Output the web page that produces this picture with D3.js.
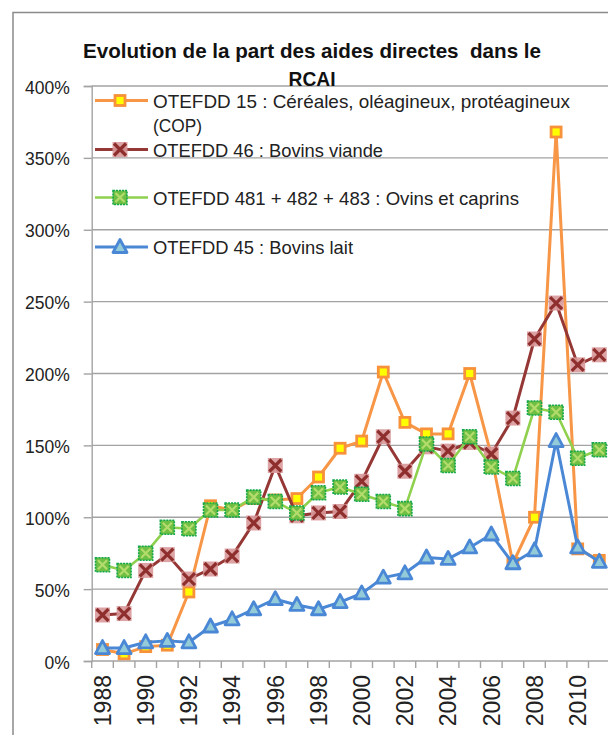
<!DOCTYPE html>
<html>
<head>
<meta charset="utf-8">
<script src="https://cdn.jsdelivr.net/npm/d3@7"></script>
<style>
  body { margin: 0; background: #fff; }
  svg { display: block; font-family: "Liberation Sans", Arial, sans-serif; }
</style>
</head>
<body>
<svg id="chart"></svg>
<script>
// categories
const years = [1988, 1989, 1990, 1991, 1992, 1993, 1994, 1995, 1996, 1997, 1998, 1999,
               2000, 2001, 2002, 2003, 2004, 2005, 2006, 2007, 2008, 2009, 2010, 2011];

// series values (% of RCAI)
const cop    = [8, 5, 10, 11, 48, 108, 105, 113, 112, 113, 128, 148, 153, 201, 166, 158, 158, 200, 143, 68, 100, 368, 78, 70];
const viande = [32, 33, 63, 74, 57, 64, 73, 96, 136, 101, 103, 104, 125, 156, 132, 149, 146, 152, 144, 169, 224, 249, 206, 213];
const ovins  = [67, 63, 75, 93, 92, 105, 105, 114, 111, 103, 117, 121, 116, 111, 106, 151, 136, 156, 135, 127, 176, 173, 141, 147];
const lait   = [9, 9, 13, 14, 13, 24, 29, 36, 43, 39, 36, 41, 47, 58, 61, 72, 71, 79, 88, 68, 77, 153, 79, 69];

// tick labels
const yTicks = [0, 50, 100, 150, 200, 250, 300, 350, 400];
const xLabels = [1988, 1990, 1992, 1994, 1996, 1998, 2000, 2002, 2004, 2006, 2008, 2010];

const titleLines = ["Evolution de la part des aides directes  dans le", "RCAI"];
const seriesNames = [
    ["OTEFDD 15 : Céréales, oléagineux, protéagineux", "(COP)"],
    ["OTEFDD 46 : Bovins viande"],
    ["OTEFDD 481 + 482 + 483 : Ovins et caprins"],
    ["OTEFDD 45 : Bovins lait"]
];

const W = 608, H = 735;
const margin = {left: 91.7, top: 86, bottom: 661};
const band = 21.6;

const svg = d3.select('#chart').attr('width', W).attr('height', H);

// outer chart frame
svg.append('rect')
    .attr('x', 13).attr('y', 12.5)
    .attr('width', 800).attr('height', 900)
    .attr('fill', 'none')
    .attr('stroke', '#8a8a8a')
    .attr('stroke-width', 1.5);

const x = d3.scaleBand()
    .domain(years)
    .range([margin.left, margin.left + band * years.length]);

const y = d3.scaleLinear()
    .domain([0, 400])
    .range([margin.bottom, margin.top]);

// gridlines
svg.append('g')
    .selectAll('line')
    .data(yTicks.slice(1))
    .join('line')
    .attr('x1', margin.left).attr('x2', W + 5)
    .attr('y1', d => y(d)).attr('y2', d => y(d))
    .attr('stroke', '#a3a3a3')
    .attr('stroke-width', 1.4);

// y axis
let yAxis = g => g.attr('transform', `translate(${margin.left},0)`)
    .call(d3.axisLeft(y).tickValues(yTicks).tickSize(8).tickPadding(14).tickFormat(d => d + '%'))
    .call(g => g.select('.domain').attr('stroke', '#a3a3a3').attr('stroke-width', 1.4))
    .call(g => g.selectAll('.tick line').attr('stroke', '#a3a3a3').attr('stroke-width', 1.4))
    .call(g => g.selectAll('.tick text')
        .attr('fill', '#222')
        .attr('dy', '0.4em')
        .style('font-size', '17.5px')
        .style('font-family', '"Liberation Sans", Arial, sans-serif'));
svg.append('g').call(yAxis);

// x axis: line + ticks between categories
const xg = svg.append('g');
xg.append('line')
    .attr('x1', margin.left).attr('x2', W + 5)
    .attr('y1', y(0)).attr('y2', y(0))
    .attr('stroke', '#a3a3a3').attr('stroke-width', 1.4);
xg.selectAll('.xtick')
    .data(years)
    .join('line')
    .attr('class', 'xtick')
    .attr('x1', d => x(d)).attr('x2', d => x(d))
    .attr('y1', y(0)).attr('y2', y(0) + 7)
    .attr('stroke', '#a3a3a3').attr('stroke-width', 1.4);

let xAxis = g => g.attr('transform', `translate(0,${y(0)})`)
    .call(d3.axisBottom(x).tickValues(xLabels).tickSize(0))
    .call(g => g.select('.domain').remove())
    .call(g => g.selectAll('.tick text')
        .attr('transform', 'rotate(-90)')
        .attr('x', -14).attr('y', 0).attr('dy', '0.36em')
        .style('text-anchor', 'end')
        .attr('fill', '#222')
        .style('font-size', '23px')
        .style('font-family', '"Liberation Sans", Arial, sans-serif'));
svg.append('g').call(xAxis);

// markers
function drawMarker(g, type) {
    if (type === 'square') {
        g.append('rect').attr('x', -5).attr('y', -5).attr('width', 10).attr('height', 10)
            .attr('fill', '#ffff00').attr('stroke', '#f7923a').attr('stroke-width', 2.8);
    } else if (type === 'cross') {
        g.append('rect').attr('x', -7.5).attr('y', -7.5).attr('width', 15).attr('height', 15)
            .attr('fill', '#d9999a').attr('fill-opacity', 0.9);
        g.append('path').attr('d', 'M-6,-6L6,6M-6,6L6,-6')
            .attr('stroke', '#8e2f2e').attr('stroke-width', 3.2).attr('fill', 'none');
    } else if (type === 'green') {
        g.append('rect').attr('x', -7).attr('y', -7).attr('width', 14).attr('height', 14)
            .attr('fill', '#6fbf45').attr('stroke', '#14a84a').attr('stroke-width', 1.6)
            .attr('stroke-dasharray', '2,1');
        g.append('path').attr('d', 'M-4.5,-4.5L4.5,4.5M-4.5,4.5L4.5,-4.5')
            .attr('stroke', '#b4dc6c').attr('stroke-width', 2.2).attr('fill', 'none');
    } else if (type === 'triangle') {
        g.append('path').attr('d', 'M0,-7.5L7,5.5L-7,5.5Z')
            .attr('fill', '#93cbd8').attr('stroke', '#4a88d6').attr('stroke-width', 2.8)
            .attr('stroke-linejoin', 'round');
    }
}

const series = [
    {values: cop,    color: '#f79646', width: 3,   marker: 'square'},
    {values: viande, color: '#953735', width: 3,   marker: 'cross'},
    {values: ovins,  color: '#8fd14f', width: 2.6, marker: 'green'},
    {values: lait,   color: '#4a88d6', width: 3,   marker: 'triangle'}
];

const cx = i => x(years[i]) + x.bandwidth() / 2;
const line = d3.line().x((d, i) => cx(i)).y(d => y(d));

const plot = svg.append('g');
series.forEach(s => {
    const g = plot.append('g');
    g.append('path')
        .datum(s.values)
        .attr('d', line)
        .attr('fill', 'none')
        .attr('stroke', s.color)
        .attr('stroke-width', s.width)
        .attr('stroke-linejoin', 'round');
    g.selectAll('.m')
        .data(s.values)
        .join('g')
        .attr('class', 'm')
        .attr('transform', (d, i) => `translate(${cx(i)},${y(d)})`)
        .each(function() { drawMarker(d3.select(this), s.marker); });
});

// helper: squeeze text to a measured width
function fitText(t, w) {
    t.attr('textLength', w).attr('lengthAdjust', 'spacingAndGlyphs');
}

// title (keep the double space of the original)
const title = svg.append('g')
    .style('font-family', '"Liberation Sans", Arial, sans-serif')
    .style('font-weight', 'bold')
    .attr('fill', '#111');
const t1 = title.append('text').attr('x', 312).attr('y', 58).attr('text-anchor', 'middle')
    .attr('xml:space', 'preserve')
    .style('white-space', 'pre')
    .style('font-size', '21px').text(titleLines[0]);
fitText(t1, 458);
const t2 = title.append('text').attr('x', 312).attr('y', 86).attr('text-anchor', 'middle')
    .style('font-size', '21px').text(titleLines[1]);
fitText(t2, 47);

// legend
const legendRows = [100.5, 149.5, 197.5, 247];
const legendWidths = [[417, 49], [230], [366], [200]];
const legend = svg.append('g')
    .style('font-family', '"Liberation Sans", Arial, sans-serif')
    .style('font-size', '19px')
    .attr('fill', '#222');

series.forEach((s, k) => {
    const ly = legendRows[k];
    const lg = legend.append('g');
    lg.append('line')
        .attr('x1', 95).attr('x2', 148)
        .attr('y1', ly).attr('y2', ly)
        .attr('stroke', s.color).attr('stroke-width', s.width);
    drawMarker(lg.append('g').attr('transform', `translate(120,${ly})`), s.marker);
    seriesNames[k].forEach((txt, j) => {
        const t = lg.append('text')
            .attr('x', 153)
            .attr('y', ly + 7 + j * 24)
            .text(txt);
        fitText(t, legendWidths[k][j]);
    });
});
</script>
</body>
</html>
